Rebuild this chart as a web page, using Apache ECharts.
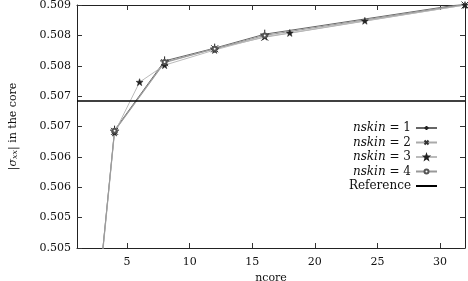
<!DOCTYPE html>
<html>
<head>
<meta charset="utf-8">
<script src="https://cdn.jsdelivr.net/npm/echarts@6/dist/echarts.min.js"></script>
<style>html,body{margin:0;padding:0;background:#fff}#c{width:468px;height:281px}</style>
</head>
<body>
<div id="c"></div>
<script>
// ---- data ----
const xTicks = [5, 10, 15, 20, 25, 30];
const yTickLabels = ['0.505', '0.505', '0.506', '0.506', '0.507', '0.507', '0.508', '0.508', '0.509'];
const ncoreA = [2, 4, 8, 12, 16, 32];
const nskin1 = [0.50276, 0.50694, 0.50808, 0.50829, 0.50852, 0.50902];
const nskin2 = [0.50276, 0.50692, 0.50805, 0.50828, 0.50847, 0.50900];
const ncoreB = [2, 4, 6, 8, 12, 16, 18, 24, 32];
const nskin3 = [0.50270, 0.50690, 0.50773, 0.50801, 0.50826, 0.50848, 0.50854, 0.50874, 0.50900];
const nskin4 = [0.50276, 0.50693, 0.50806, 0.50828, 0.50850, 0.50901];
const referenceValue = 0.50742;
const xRange = [1, 32];

const serif = 'DejaVu Serif';
const pair = (xs, ys) => xs.map((x, i) => [x, ys[i]]);

const plusPath = 'path://M0,5L10,5M5,0L5,10';
const crossPath = 'path://M0,0L10,10M10,0L0,10';
const starPath = 'path://M5,0L6.2,3.4L9.8,3.5L7,5.7L8,9.2L5,7.1L2,9.2L3,5.7L0.2,3.5L3.8,3.4Z';

const chart = echarts.init(document.getElementById('c'), null, {renderer: 'canvas'});
const baseAxisLine = {show: true, lineStyle: {color: '#222', width: 1}};
const tickStyle = {show: true, inside: true, length: 5, lineStyle: {color: '#333', width: 1}};

chart.setOption({
  animation: false,
  backgroundColor: '#fff',
  grid: {left: 77, right: 3, top: 5, bottom: 33, containLabel: false, outerBoundsMode: 'none'},
  xAxis: [{
    type: 'value', min: xRange[0], max: xRange[1], position: 'bottom',
    axisLine: baseAxisLine, splitLine: {show: false},
    axisTick: Object.assign({}, tickStyle, {customValues: xTicks}),
    axisLabel: {customValues: xTicks, fontFamily: serif, fontSize: 11, color: '#111', margin: 9},
    name: 'ncore', nameLocation: 'middle', nameGap: 20,
    nameTextStyle: {fontFamily: serif, fontSize: 11, color: '#111'}
  }, {
    type: 'value', min: xRange[0], max: xRange[1], position: 'top',
    axisLine: baseAxisLine, splitLine: {show: false},
    axisTick: Object.assign({}, tickStyle, {customValues: xTicks}),
    axisLabel: {show: false}
  }],
  yAxis: [{
    type: 'value', min: 0.505, max: 0.509, interval: 0.0005, position: 'left',
    axisLine: baseAxisLine, splitLine: {show: false}, axisTick: tickStyle,
    axisLabel: {
      fontFamily: serif, fontSize: 11, color: '#111', margin: 6,
      formatter: v => yTickLabels[Math.round((v - 0.505) / 0.0005)]
    },
    name: '|{i|σ}{s|xx}| in the core', nameLocation: 'middle', nameGap: 58, nameRotate: 90,
    nameTextStyle: {
      fontFamily: serif, fontSize: 11, color: '#111',
      rich: {i: {fontFamily: serif, fontStyle: 'italic', fontSize: 11, color: '#111'},
             s: {fontFamily: serif, fontStyle: 'italic', fontSize: 8, color: '#111', padding: [4, 0, 0, 0]}}
    }
  }, {
    type: 'value', min: 0.505, max: 0.509, interval: 0.0005, position: 'right',
    axisLine: baseAxisLine, splitLine: {show: false}, axisTick: tickStyle,
    axisLabel: {show: false}
  }],
  legend: {
    orient: 'vertical', right: 25, top: 117, align: 'right',
    itemWidth: 21, itemHeight: 5, itemGap: 2.5,
    data: ['nskin1', 'nskin2', 'nskin3', 'nskin4',
           {name: 'Reference', itemStyle: {color: 'rgba(0,0,0,0)', borderWidth: 0, borderColor: 'rgba(0,0,0,0)'}}],
    formatter: n => n === 'Reference' ? 'Reference' : '{i|nskin} = ' + n.slice(5),
    textStyle: {
      fontFamily: serif, fontSize: 12, color: '#111', lineHeight: 12,
      rich: {i: {fontFamily: serif, fontStyle: 'italic', fontSize: 12, color: '#111'}}
    }
  },
  series: [
    {name: 'nskin1', type: 'line', data: pair(ncoreA, nskin1), symbol: plusPath, symbolSize: 9,
     itemStyle: {color: 'rgba(0,0,0,0)', borderColor: '#222', borderWidth: 1},
     lineStyle: {color: '#666', width: 1}},
    {name: 'nskin2', type: 'line', data: pair(ncoreA, nskin2), symbol: crossPath, symbolSize: 7,
     itemStyle: {color: 'rgba(0,0,0,0)', borderColor: '#333', borderWidth: 1},
     lineStyle: {color: '#aaa', width: 1}},
    {name: 'nskin3', type: 'line', data: pair(ncoreB, nskin3), symbol: starPath, symbolSize: 7,
     itemStyle: {color: '#222', borderColor: '#222', borderWidth: 0.5},
     lineStyle: {color: '#bbb', width: 1}},
    {name: 'nskin4', type: 'line', data: pair(ncoreA, nskin4), symbol: 'emptyCircle', symbolSize: 4,
     itemStyle: {color: '#555', borderColor: '#555', borderWidth: 1},
     lineStyle: {color: '#999', width: 1}},
    {name: 'Reference', type: 'line', data: [[xRange[0], referenceValue], [xRange[1], referenceValue]],
     symbol: 'none', lineStyle: {color: '#000', width: 1.5}, itemStyle: {color: '#000'}}
  ]
});
</script>
</body>
</html>
